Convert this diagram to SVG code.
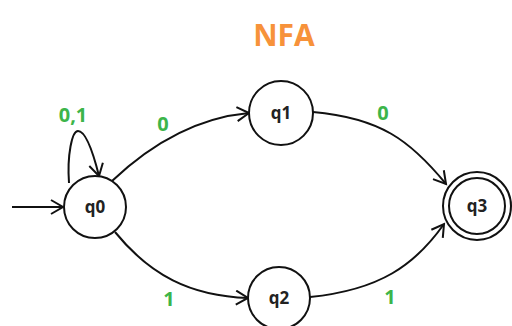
<svg xmlns="http://www.w3.org/2000/svg" width="512" height="326" viewBox="0 0 512 326">
  <style>
    .state { fill: #ffffff; stroke: #111111; stroke-width: 2; }
    .label { font-family: "Open Sans", "Liberation Sans", sans-serif; font-weight: bold; font-size: 17px; fill: #222222; text-anchor: middle; }
    .sym { font-family: "Open Sans", "Liberation Sans", sans-serif; font-weight: bold; font-size: 20px; fill: #3cb54a; text-anchor: middle; }
    .title { font-family: "Open Sans", "Liberation Sans", sans-serif; font-weight: bold; font-size: 30px; fill: #f7923a; text-anchor: middle; }
    .edge { fill: none; stroke: #111111; stroke-width: 2; marker-end: url(#arrow); }
  </style>
  <defs>
    <marker id="arrow" markerUnits="userSpaceOnUse" markerWidth="16" markerHeight="16" refX="13" refY="7" orient="auto" viewBox="0 0 16 14">
      <path d="M1,0 L13,7 L1,14" fill="none" stroke="#111111" stroke-width="2"/>
    </marker>
  </defs>
  <rect width="512" height="326" fill="#ffffff"/>

  <text class="title" x="284" y="46">NFA</text>

  <g id="connectors">
    <path class="edge" d="M12,207 L63,207"/>
    <path class="edge" d="M69,183 C67,155 72,131 78,131 C86,131 93,152 99,176"/>
    <path class="edge" d="M112,181 C150,145 195,118 249,113"/>
    <path class="edge" d="M313,112 C380,118 410,140 446,184"/>
    <path class="edge" d="M115,232 C150,275 190,296 248,298"/>
    <path class="edge" d="M310,297 C380,290 415,265 444,224"/>
  </g>

  <g id="edge-labels">
    <text class="sym" x="73" y="122">0,1</text>
    <text class="sym" x="163" y="131">0</text>
    <text class="sym" x="383" y="120">0</text>
    <text class="sym" x="169" y="306">1</text>
    <text class="sym" x="390" y="304">1</text>
  </g>

  <g id="q0">
    <circle class="state" cx="95" cy="207" r="31"/>
    <text class="label" x="95" y="213">q0</text>
  </g>
  <g id="q1">
    <circle class="state" cx="281" cy="113" r="32"/>
    <text class="label" x="281" y="119">q1</text>
  </g>
  <g id="q2">
    <circle class="state" cx="279" cy="298" r="31"/>
    <text class="label" x="279" y="304">q2</text>
  </g>
  <g id="q3">
    <circle class="state" cx="477" cy="206" r="34"/>
    <circle class="state" cx="477" cy="206" r="28"/>
    <text class="label" x="477" y="212">q3</text>
  </g>
</svg>
